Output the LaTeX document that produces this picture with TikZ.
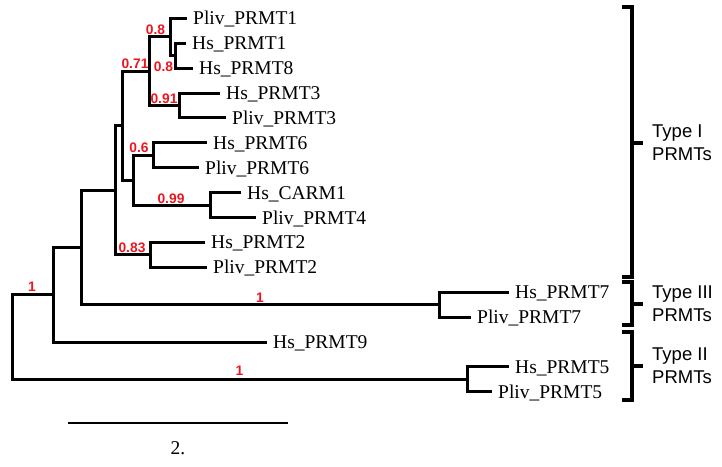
\documentclass[tikz,border=0pt]{standalone}
\usepackage{fontspec}
\setmainfont{Liberation Serif}
\newfontfamily\arialfont{Liberation Sans}
\definecolor{bsred}{RGB}{236,22,30}
\begin{document}
\begin{tikzpicture}[x=1pt,y=-1pt,
  branch/.style={line width=3pt, line join=miter},
  leaf/.style={anchor=west, inner xsep=6pt, inner ysep=0pt, text height=13pt, text depth=0pt, font=\fontsize{19.5}{20}\selectfont},
  boot/.style={text=bsred, font=\arialfont\bfseries\fontsize{13.8}{14}\selectfont, inner sep=0pt},
  brk/.style={line width=3.4pt, line join=miter},
  grp/.style={anchor=west, align=left, inner sep=0pt, font=\arialfont\fontsize{18.5}{23}\selectfont},
  scalebar/.style={line width=2.8pt},
]
\useasboundingbox (0,0) rectangle (722,466);

% leaves (west anchor = end of branch)
\node[leaf] (l0)  at (187,18.3)  {Pliv\_PRMT1};
\node[leaf] (l1)  at (186,43.2)  {Hs\_PRMT1};
\node[leaf] (l2)  at (193,68.1)  {Hs\_PRMT8};
\node[leaf] (l3)  at (220,93.0)  {Hs\_PRMT3};
\node[leaf] (l4)  at (226,117.9) {Pliv\_PRMT3};
\node[leaf] (l5)  at (207,142.8) {Hs\_PRMT6};
\node[leaf] (l6)  at (199,167.7) {Pliv\_PRMT6};
\node[leaf] (l7)  at (241,192.6) {Hs\_CARM1};
\node[leaf] (l8)  at (256,217.5) {Pliv\_PRMT4};
\node[leaf] (l9)  at (205,242.4) {Hs\_PRMT2};
\node[leaf] (l10) at (207,267.3) {Pliv\_PRMT2};
\node[leaf] (l11) at (509,292.2) {Hs\_PRMT7};
\node[leaf] (l12) at (471,317.1) {Pliv\_PRMT7};
\node[leaf] (l13) at (267,342.0) {Hs\_PRMT9};
\node[leaf] (l14) at (509,366.9) {Hs\_PRMT5};
\node[leaf] (l15) at (492,391.8) {Pliv\_PRMT5};

% internal nodes
\coordinate (n18)  at (175,55.65);
\coordinate (nA)   at (170,36.98);
\coordinate (n3)   at (179,105.45);
\coordinate (nB)   at (149,71.2);
\coordinate (n6)   at (153,155.25);
\coordinate (nCA)  at (210,205.05);
\coordinate (nD)   at (133,180.15);
\coordinate (nC)   at (122,125.7);
\coordinate (n2)   at (150,254.85);
\coordinate (nE)   at (115,190.3);
\coordinate (n7)   at (439,304.65);
\coordinate (nF)   at (81,247.5);
\coordinate (nG)   at (53,294.7);
\coordinate (n5)   at (467,379.35);
\coordinate (root) at (12,337);

% branches
\draw[branch] (l1.west) -| (n18) |- (l2.west);
\draw[branch] (l0.west) -| (nA) |- (n18);
\draw[branch] (l3.west) -| (n3) |- (l4.west);
\draw[branch] (nA) -| (nB) |- (n3);
\draw[branch] (l5.west) -| (n6) |- (l6.west);
\draw[branch] (l7.west) -| (nCA) |- (l8.west);
\draw[branch] (n6) -| (nD) |- (nCA);
\draw[branch] (nB) -| (nC) |- (nD);
\draw[branch] (l9.west) -| (n2) |- (l10.west);
\draw[branch] (nC) -| (nE) |- (n2);
\draw[branch] (l11.west) -| (n7) |- (l12.west);
\draw[branch] (nE) -| (nF) |- (n7);
\draw[branch] (nF) -| (nG) |- (l13.west);
\draw[branch] (l14.west) -| (n5) |- (l15.west);
\draw[branch] (nG) -| (root) |- (n5);

% bootstrap values
\node[boot] (b1)  at (155.5,29.8) {0.8};
\node[boot] (b2)  at (135,63.5)   {0.71};
\node[boot] (b3)  at (163.5,66.5) {0.8};
\node[boot] (b4)  at (164,98.5)   {0.91};
\node[boot] (b5)  at (139,148)    {0.6};
\node[boot] (b6)  at (171,199)    {0.99};
\node[boot] (b7)  at (132,248)    {0.83};
\node[boot] (b8)  at (32,287)     {1};
\node[boot] (b9)  at (260,298)    {1};
\node[boot] (b10) at (239.5,371)  {1};

% brackets
\coordinate (k1a) at (622,7);   \coordinate (k1b) at (632,7);
\coordinate (k1c) at (632,277); \coordinate (k1d) at (622,277);
\coordinate (k1m) at (632,143); \coordinate (k1t) at (643,143);
\draw[brk] (k1a) -- (k1b) -- (k1c) -- (k1d);
\draw[brk] (k1m) -- (k1t);
\node[grp] (g1) at (652,143) {Type I\\PRMTs};

\coordinate (k3a) at (622,282); \coordinate (k3b) at (632,282);
\coordinate (k3c) at (632,325); \coordinate (k3d) at (622,325);
\coordinate (k3m) at (632,304); \coordinate (k3t) at (643,304);
\draw[brk] (k3a) -- (k3b) -- (k3c) -- (k3d);
\draw[brk] (k3m) -- (k3t);
\node[grp] (g3) at (652,304) {Type III\\PRMTs};

\coordinate (k2a) at (622,332); \coordinate (k2b) at (632,332);
\coordinate (k2c) at (632,400); \coordinate (k2d) at (622,400);
\coordinate (k2m) at (632,366); \coordinate (k2t) at (643,366);
\draw[brk] (k2a) -- (k2b) -- (k2c) -- (k2d);
\draw[brk] (k2m) -- (k2t);
\node[grp] (g2) at (652,366) {Type II\\PRMTs};

% scale bar
\coordinate (s1) at (68,423);
\coordinate (s2) at (288,423);
\draw[scalebar] (s1) -- (s2);
\node[inner sep=0pt, text height=13.2pt, text depth=0pt, font=\fontsize{19.5}{20}\selectfont] (sl) at (178,448) {2.};
\end{tikzpicture}
\end{document}
